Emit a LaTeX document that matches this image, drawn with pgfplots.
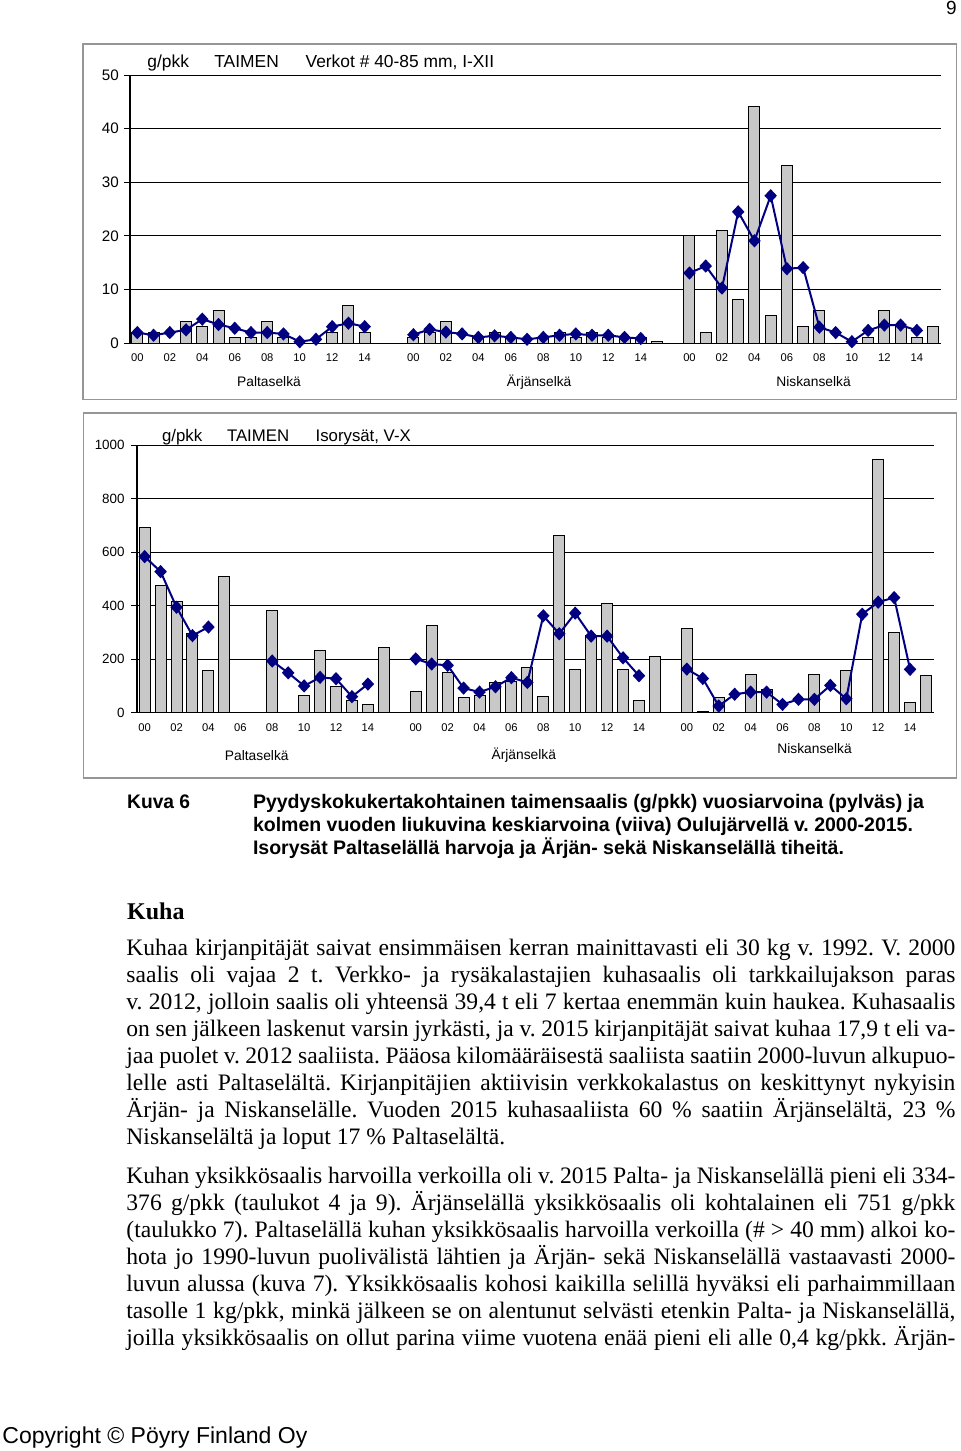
\documentclass[border=0pt]{standalone}
\usepackage{pgfplots}
\pgfplotsset{compat=1.18}
\usepackage{fontspec}
\usepackage{graphicx}
\setmainfont{Liberation Sans}
\newfontfamily\bodyfont{Liberation Serif}
\definecolor{barfill}{RGB}{200,200,200}
\definecolor{navyline}{RGB}{0,0,128}
\definecolor{framegray}{RGB}{150,150,150}
\frenchspacing
\newcommand\bodyline[1]{\makebox[414.5pt][s]{\bodyfont\fontsize{11.8pt}{13.5pt}\selectfont\frenchspacing #1}}
\newcommand\bodylast[1]{{\bodyfont\fontsize{11.8pt}{13.5pt}\selectfont\frenchspacing #1}}
\newcommand\capline[2]{\resizebox{#1}{\height}{\fontsize{9.8pt}{11pt}\selectfont\bfseries #2}}
\pgfplotsset{
  tw/.style={
    scale only axis,
    axis x line*=bottom, axis y line*=left,
    ymajorgrids, grid style={black, line width=0.5pt},
    xtick style={draw=none},
    ytick style={black, line width=0.5pt},
    tick align=outside, major tick length=3pt,
    axis line style={black, line width=0.6pt},
    /pgf/number format/assume math mode=true,
    /pgf/number format/1000 sep={},
    xtick={0,2,4,6,8,10,12,14,17,19,21,23,25,27,29,31,34,36,38,40,42,44,46,48},
    xticklabels={00,02,04,06,08,10,12,14,00,02,04,06,08,10,12,14,00,02,04,06,08,10,12,14},
    xticklabel style={font=\fontsize{5.6pt}{6pt}\selectfont, inner sep=0pt, anchor=north},
    yticklabel style={inner sep=0pt, anchor=east},
  },
  barst/.style={ybar, bar shift=0pt, bar width=5.5pt, fill=barfill, draw=black, line width=0.5pt},
  linest/.style={navyline, line width=1pt, mark=diamond*, mark size=2.6pt, mark options={fill=navyline, xscale=1.25}},
}
\begin{document}
\begin{tikzpicture}
\path[use as bounding box] (0,0) rectangle (480pt,-725.5pt);
% page number
\node[anchor=base east, inner sep=0pt, font=\fontsize{9.5pt}{10pt}\selectfont] at (478.5pt,-7.3pt) {9};
% frames
\draw[framegray, line width=0.9pt] (41.5pt,-22pt) rectangle (478.2pt,-199.7pt);
\draw[framegray, line width=0.9pt] (41.7pt,-206.3pt) rectangle (478.2pt,-388.8pt);

% ---------- top chart ----------
\begin{axis}[tw, at={(65pt,-171.65pt)}, anchor=south west,
  width=405.6pt, height=134.15pt,
  xmin=-0.45, xmax=49.5, ymin=0, ymax=50, ytick={0,10,20,30,40,50},
  yticklabel style={font=\fontsize{7.6pt}{8pt}\selectfont, xshift=-2.4pt},
  xticklabel style={yshift=-2.2pt}]
\addplot[barst] coordinates {(0,2) (1,2) (3,4.1) (4,3.1) (5,6.1) (6,1) (7,1) (8,4) (9,1) (12,2) (13,7.1) (14,2)};
\addplot[barst] coordinates {(17,1.1) (18,2) (19,4) (21,1) (22,2) (23,1) (25,1) (26,2) (27,1) (28,2) (29,1) (30,1) (31,1) (32,0.4)};
\addplot[barst] coordinates {(34,20) (35,2) (36,21.1) (37,8.1) (38,44.1) (39,5.1) (40,33.1) (41,3.1) (42,6.1) (45,1.1) (46,6.1) (47,3.1) (48,1.1) (49,3.1)};
\addplot[linest] coordinates {(0,2.0) (1,1.5) (2,2.0) (3,2.5) (4,4.5) (5,3.5) (6,2.8) (7,2.0) (8,2.0) (9,1.75) (10,0.3) (11,0.75) (12,3.1) (13,3.75) (14,3.1)};
\addplot[linest] coordinates {(17,1.6) (18,2.6) (19,2.1) (20,1.75) (21,1.1) (22,1.4) (23,1.1) (24,0.75) (25,1.1) (26,1.5) (27,1.75) (28,1.5) (29,1.5) (30,1.1) (31,0.9)};
\addplot[linest] coordinates {(34,13.1) (35,14.4) (36,10.3) (37,24.5) (38,19.1) (39,27.5) (40,13.9) (41,14.1) (42,3.0) (43,2.0) (44,0.3) (45,2.4) (46,3.4) (47,3.4) (48,2.4)};
\end{axis}
\begin{scope}[every node/.style={inner sep=0pt}]
\node[anchor=base west, font=\fontsize{8.7pt}{9pt}\selectfont] at (73.5pt,-33.5pt) {g/pkk};
\node[anchor=base west, font=\fontsize{8.7pt}{9pt}\selectfont] at (107pt,-33.5pt) {TAIMEN};
\node[anchor=base west, font=\fontsize{8.7pt}{9pt}\selectfont] at (152.6pt,-33.5pt) {Verkot \# 40-85 mm, I-XII};
\node[anchor=base, font=\fontsize{6.9pt}{7pt}\selectfont] at (134.5pt,-193.3pt) {Paltaselkä};
\node[anchor=base, font=\fontsize{6.9pt}{7pt}\selectfont] at (269.6pt,-193.3pt) {Ärjänselkä};
\node[anchor=base, font=\fontsize{6.9pt}{7pt}\selectfont] at (406.8pt,-193.3pt) {Niskanselkä};
\end{scope}

% ---------- bottom chart ----------
\begin{axis}[tw, at={(68.5pt,-356.35pt)}, anchor=south west,
  width=398.5pt, height=133.85pt,
  xmin=-0.48, xmax=49.5, ymin=0, ymax=1000, ytick={0,200,400,600,800,1000},
  unbounded coords=jump,
  yticklabel style={font=\fontsize{6.7pt}{7pt}\selectfont, xshift=-3pt},
  xticklabel style={yshift=-2.5pt}]
\addplot[barst] coordinates {(0,692) (1,474) (2,417) (3,296) (4,158) (5,509) (8,382) (10,66) (11,233) (12,97) (13,47) (14,32) (15,244)};
\addplot[barst] coordinates {(17,78) (18,324) (19,151) (20,57) (21,66) (22,112) (23,115) (24,169) (25,60) (26,662) (27,160) (28,288) (29,408) (30,162) (31,46) (32,209)};
\addplot[barst] coordinates {(34,315) (35,6) (36,55) (38,143) (39,87) (42,144) (44,157) (46,946) (47,300) (48,37) (49,138)};
\addplot[linest] coordinates {(0,583) (1,527) (2,394) (3,288) (4,320) (5,nan) (8,193) (9,149) (10,100) (11,132) (12,127) (13,60) (14,107)};
\addplot[linest] coordinates {(17,201) (18,182) (19,177) (20,92) (21,77) (22,97) (23,131) (24,113) (25,362) (26,295) (27,372) (28,286) (29,286) (30,205) (31,138)};
\addplot[linest] coordinates {(34,163) (35,128) (36,25) (37,69) (38,77) (39,77) (40,31) (41,50) (42,50) (43,102) (44,52) (45,368) (46,413) (47,430) (48,162)};
\end{axis}
\begin{scope}[every node/.style={inner sep=0pt}]
\node[anchor=base west, font=\fontsize{8.4pt}{9pt}\selectfont] at (80.8pt,-220.5pt) {g/pkk};
\node[anchor=base west, font=\fontsize{8.4pt}{9pt}\selectfont] at (113.3pt,-220.5pt) {TAIMEN};
\node[anchor=base west, font=\fontsize{8.4pt}{9pt}\selectfont] at (157.6pt,-220.5pt) {Isorysät, V-X};
\node[anchor=base, font=\fontsize{6.9pt}{7pt}\selectfont] at (128.4pt,-380pt) {Paltaselkä};
\node[anchor=base, font=\fontsize{6.9pt}{7pt}\selectfont] at (261.9pt,-379.7pt) {Ärjänselkä};
\node[anchor=base, font=\fontsize{6.9pt}{7pt}\selectfont] at (407.3pt,-376.7pt) {Niskanselkä};

% ---------- caption ----------
\node[anchor=base west] at (63.4pt,-404pt) {\capline{31.5pt}{Kuva 6}};
\node[anchor=base west] at (126.3pt,-404pt) {\capline{335.5pt}{Pyydyskokukertakohtainen taimensaalis (g/pkk) vuosiarvoina (pylväs) ja}};
\node[anchor=base west] at (126.3pt,-415.5pt) {\capline{330pt}{kolmen vuoden liukuvina keskiarvoina (viiva) Oulujärvellä v. 2000-2015.}};
\node[anchor=base west] at (126.3pt,-427pt) {\capline{295.5pt}{Isorysät Paltaselällä harvoja ja Ärjän- sekä Niskanselällä tiheitä.}};

% ---------- text ----------
\node[anchor=base west, font=\bodyfont\bfseries\fontsize{12pt}{13pt}\selectfont] at (63.4pt,-459.5pt) {Kuha};
\node[anchor=base west] at (63pt,-477.5pt) {\bodyline{Kuhaa kirjanpitäjät saivat ensimmäisen kerran mainittavasti eli 30 kg v. 1992. V. 2000}};
\node[anchor=base west] at (63pt,-491pt) {\bodyline{saalis oli vajaa 2 t. Verkko- ja rysäkalastajien kuhasaalis oli tarkkailujakson paras}};
\node[anchor=base west] at (63pt,-504.5pt) {\bodyline{v. 2012, jolloin saalis oli yhteensä 39,4 t eli 7 kertaa enemmän kuin haukea. Kuhasaalis}};
\node[anchor=base west] at (63pt,-518pt) {\bodyline{on sen jälkeen laskenut varsin jyrkästi, ja v. 2015 kirjanpitäjät saivat kuhaa 17,9 t eli va-}};
\node[anchor=base west] at (63pt,-531.5pt) {\bodyline{jaa puolet v. 2012 saaliista. Pääosa kilomääräisestä saaliista saatiin 2000-luvun alkupuo-}};
\node[anchor=base west] at (63pt,-545pt) {\bodyline{lelle asti Paltaselältä. Kirjanpitäjien aktiivisin verkkokalastus on keskittynyt nykyisin}};
\node[anchor=base west] at (63pt,-558.5pt) {\bodyline{Ärjän- ja Niskanselälle. Vuoden 2015 kuhasaaliista 60 \% saatiin Ärjänselältä, 23 \%}};
\node[anchor=base west] at (63pt,-572pt) {\bodylast{Niskanselältä ja loput 17 \% Paltaselältä.}};

\node[anchor=base west] at (63pt,-591.5pt) {\bodyline{Kuhan yksikkösaalis harvoilla verkoilla oli v. 2015 Palta- ja Niskanselällä pieni eli 334-}};
\node[anchor=base west] at (63pt,-605pt) {\bodyline{376 g/pkk (taulukot 4 ja 9). Ärjänselällä yksikkösaalis oli kohtalainen eli 751 g/pkk}};
\node[anchor=base west] at (63pt,-618.5pt) {\bodyline{(taulukko 7). Paltaselällä kuhan yksikkösaalis harvoilla verkoilla (\# > 40 mm) alkoi ko-}};
\node[anchor=base west] at (63pt,-632pt) {\bodyline{hota jo 1990-luvun puolivälistä lähtien ja Ärjän- sekä Niskanselällä vastaavasti 2000-}};
\node[anchor=base west] at (63pt,-645.5pt) {\bodyline{luvun alussa (kuva 7). Yksikkösaalis kohosi kaikilla selillä hyväksi eli parhaimmillaan}};
\node[anchor=base west] at (63pt,-659pt) {\bodyline{tasolle 1 kg/pkk, minkä jälkeen se on alentunut selvästi etenkin Palta- ja Niskanselällä,}};
\node[anchor=base west] at (63pt,-672.5pt) {\bodyline{joilla yksikkösaalis on ollut parina viime vuotena enää pieni eli alle 0,4 kg/pkk. Ärjän-}};

\node[anchor=base west, font=\fontsize{11.5pt}{12pt}\selectfont] at (1pt,-721.5pt) {\resizebox{152.5pt}{\height}{Copyright © Pöyry Finland Oy}};
\end{scope}
\end{tikzpicture}
\end{document}
